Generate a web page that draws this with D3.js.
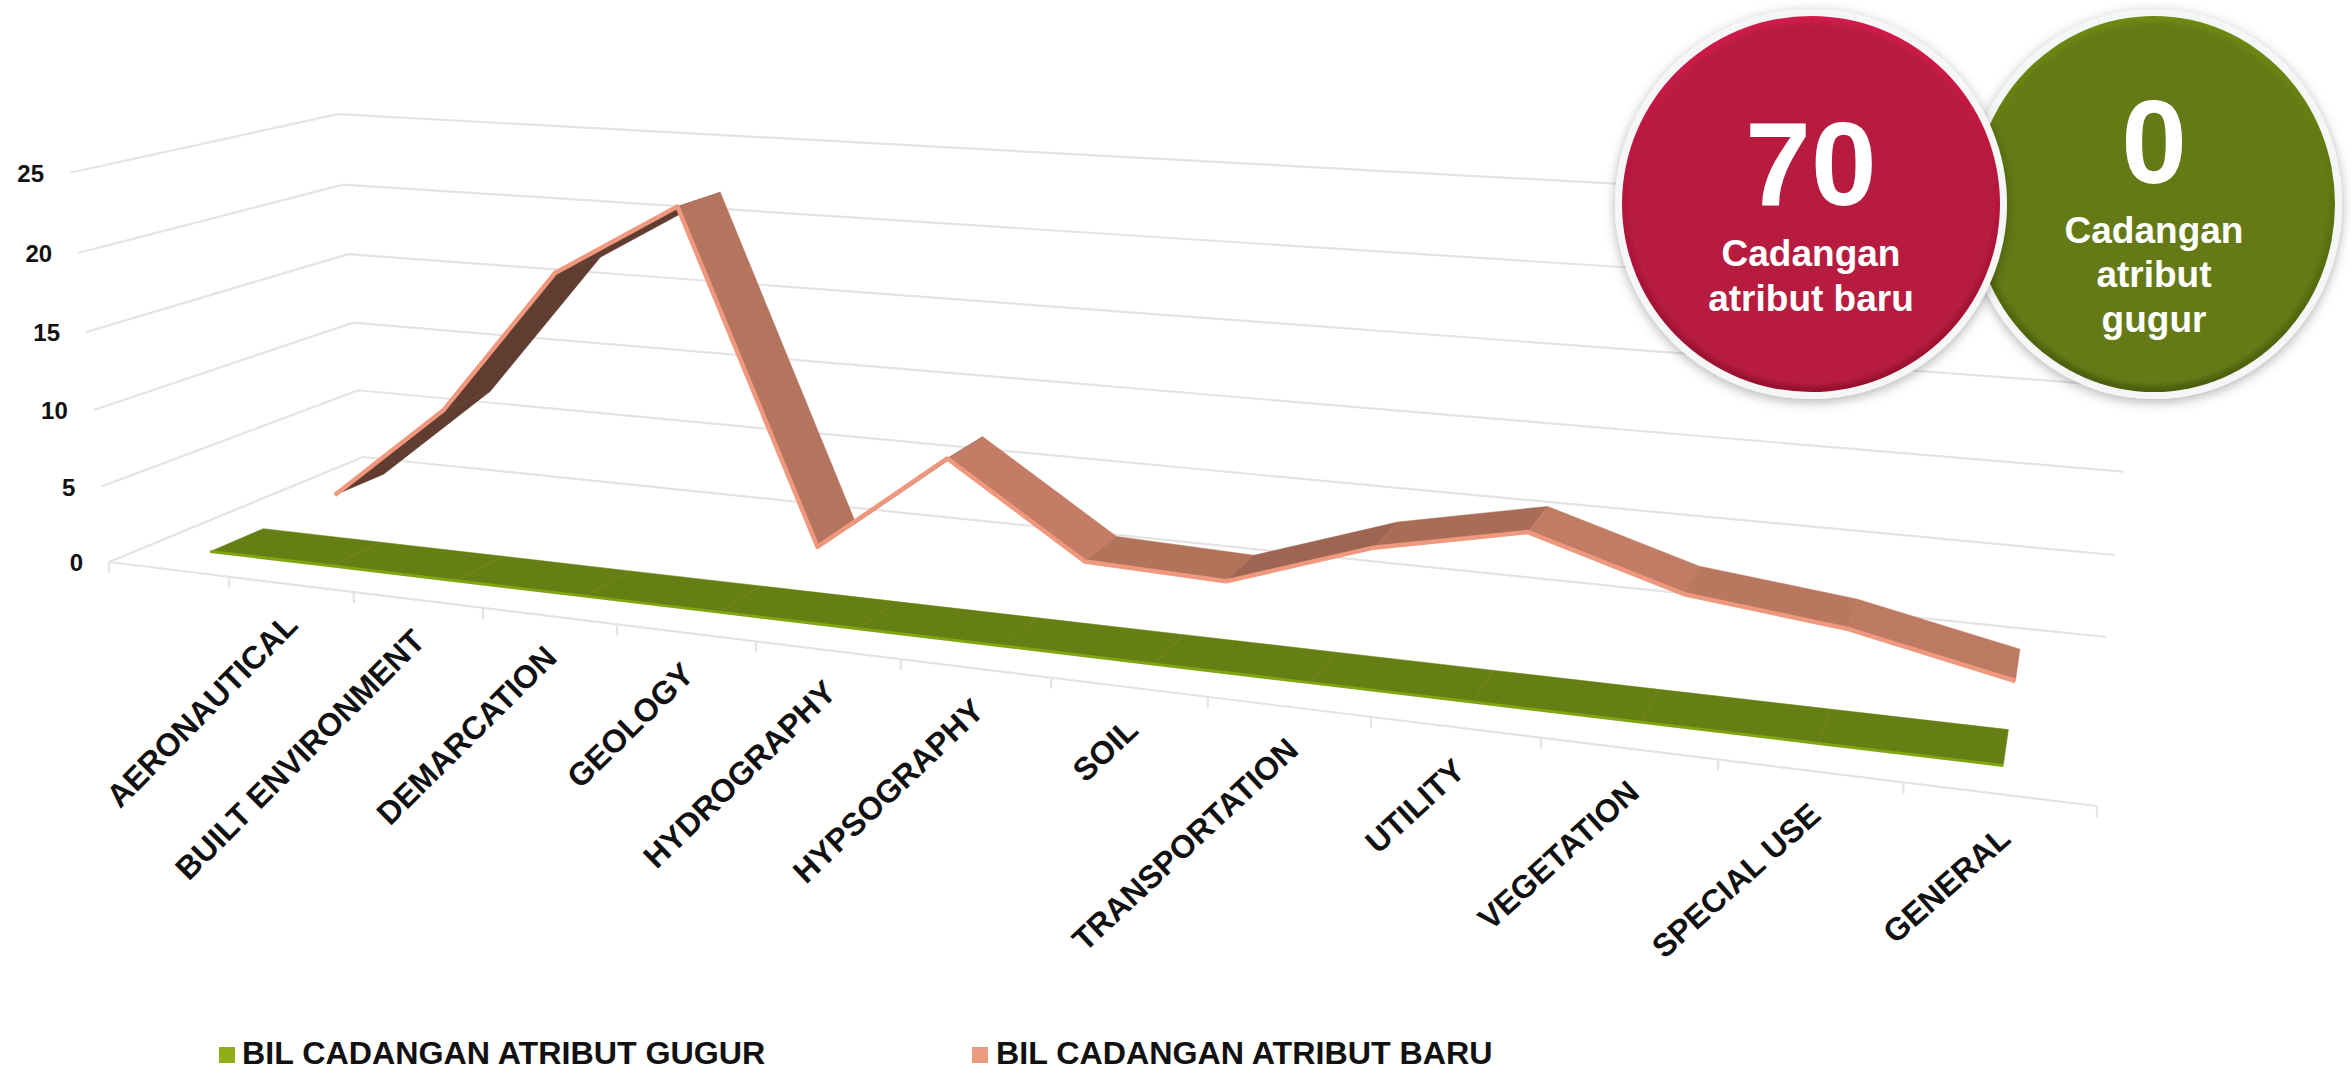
<!DOCTYPE html>
<html><head><meta charset="utf-8">
<script src="https://cdn.jsdelivr.net/npm/d3@7"></script>
<style>html,body{margin:0;padding:0;background:#fff}svg{display:block}text{font-family:"Liberation Sans",Arial,sans-serif;font-weight:700}</style>
</head><body><svg id="c" width="2351" height="1071"></svg>
<script>
const categories=["","AERONAUTICAL","BUILT ENVIRONMENT","DEMARCATION","GEOLOGY","HYDROGRAPHY","HYPSOGRAPHY","SOIL","TRANSPORTATION","UTILITY","VEGETATION","SPECIAL USE","GENERAL"];
const categoryCount=13;
const seriesBaru=[0.2,7,17,21.9,0.25,7,1.2,0.9,4,5.9,3.1,2.05,0.05];
const seriesGugur=[0,0,0,0,0,0,0,0,0,0,0,0,0];
const yTicks=[0,5,10,15,20,25];
const legendNames=["BIL CADANGAN ATRIBUT GUGUR","BIL CADANGAN ATRIBUT BARU"];
const shadesBaru=["#613c30","#613c30","#613c30","#b4745e","#3d2a22","#c47c66","#b2735b","#9e6652","#a86c57","#c07c65","#b8775f","#bd7a63"];

// projection frame
const floor=[[109,562],[2097,806],[2106,637],[363,457]];
const wallTop=[[0,0,69,172],[0,1,339,113],[1,1,2150,215]];
function unitHomography(p){const [[x0,y0],[x1,y1],[x2,y2],[x3,y3]]=p;
 const dx1=x1-x2,dx2=x3-x2,dx3=x0-x1+x2-x3,dy1=y1-y2,dy2=y3-y2,dy3=y0-y1+y2-y3;
 const den=dx1*dy2-dx2*dy1,g=(dx3*dy2-dx2*dy3)/den,h=(dx1*dy3-dx3*dy1)/den;
 return {mu:[x1-x0+g*x1,y1-y0+g*y1,g],md:[x3-x0+h*x3,y3-y0+h*y3,h],mo:[x0,y0,1]};}
const H=unitHomography(floor);
function solve3(A,b){const M=A.map((r,i)=>[...r,b[i]]);for(let i=0;i<3;i++){let p=i;for(let j=i+1;j<3;j++)if(Math.abs(M[j][i])>Math.abs(M[p][i]))p=j;[M[i],M[p]]=[M[p],M[i]];for(let j=0;j<3;j++)if(j!==i){const f=M[j][i]/M[i][i];for(let k=i;k<4;k++)M[j][k]-=f*M[i][k];}}return M.map((r,i)=>r[3]/r[i]);}
const mv=(()=>{const rows=[],rhs=[];wallTop.forEach(([u,d,X,Y])=>{const b=[0,1,2].map(k=>H.mu[k]*u+H.md[k]*d+H.mo[k]);rows.push([1,0,-X]);rhs.push(X*b[2]-b[0]);rows.push([0,1,-Y]);rhs.push(Y*b[2]-b[1]);});
 const A=[0,1,2].map(i=>[0,1,2].map(j=>d3.sum(rows,r=>r[i]*r[j])));const B=[0,1,2].map(i=>d3.sum(rows,(r,n)=>r[i]*rhs[n]));return solve3(A,B);})();
const uScale=d3.scaleLinear().domain([0,categoryCount]).range([0,1]);
const vScale=d3.scaleLinear().domain([0,25]).range([0,1]);
function project(i,v,d){const u=uScale(i),t=vScale(v);const p=[0,1,2].map(k=>H.mu[k]*u+mv[k]*t+H.md[k]*d+H.mo[k]);return [p[0]/p[2],p[1]/p[2]];}
const line=d3.line();
const svg=d3.select("#c");
const defs=svg.append("defs");
const sh=defs.append("filter").attr("id","sh").attr("x","-20%").attr("y","-20%").attr("width","140%").attr("height","140%");
sh.append("feDropShadow").attr("dx",0).attr("dy",3).attr("stdDeviation",6).attr("flood-color","#000").attr("flood-opacity",.3);
defs.append("filter").attr("id","bl").append("feGaussianBlur").attr("stdDeviation",2.5);
[["rb","#d21c4c","#96122f"],["gb","#708a14","#4c5c0e"]].forEach(([id,a,b])=>{const g=defs.append("linearGradient").attr("id",id).attr("x1",0).attr("y1",0).attr("x2",0).attr("y2",1);g.append("stop").attr("offset",0).attr("stop-color",a);g.append("stop").attr("offset",1).attr("stop-color",b);});

// grid
const grid=svg.append("g").attr("fill","none").attr("stroke","#e4e4e4").attr("stroke-width",2.2);
yTicks.forEach(v=>{grid.append("path").attr("d",line([project(0,v,0),project(0,v,1),project(categoryCount,v,1)]));});
grid.append("path").attr("d",line([project(0,0,0),project(categoryCount,0,0)]));
d3.range(categoryCount+1).forEach(i=>{const p=project(i,0,0);grid.append("path").attr("d",line([p,[p[0],p[1]+11]]));});
// y labels
svg.append("g").attr("font-size",24).attr("fill","#111").attr("text-anchor","end").selectAll("text").data(yTicks).join("text")
 .attr("x",v=>project(0,v,0)[0]-26).attr("y",v=>project(0,v,0)[1]+9).text(v=>v);
// x labels
const labelAngle=d3.scaleLinear().domain([1,12]).range([-45.5,-41.5]);
svg.append("g").attr("font-size",32).attr("fill","#111").attr("text-anchor","end").selectAll("text").data(categories.map((c,i)=>({c,i})).filter(d=>d.c)).join("text")
 .attr("transform",d=>{const p=project(d.i+.5,0,0);return `translate(${p[0]+8+d.i*.45},${p[1]+42+d.i*.45}) rotate(${labelAngle(d.i)})`;}).text(d=>d.c);

// ribbons
function ribbon(vals,d1,d2,fillOf,edge,w){const g=svg.append("g");
 d3.range(vals.length-1).forEach(i=>{const a=i+.5,b=i+1.5;g.append("path").attr("fill",fillOf(i)).attr("stroke",fillOf(i)).attr("stroke-width",.5)
  .attr("d",line([project(a,vals[i],d1),project(b,vals[i+1],d1),project(b,vals[i+1],d2),project(a,vals[i],d2)])+"Z");});
 g.append("path").attr("fill","none").attr("stroke",edge).attr("stroke-width",w).attr("stroke-linejoin","round").attr("d",line(vals.map((v,i)=>project(i+.5,v,d1))));}
ribbon(seriesBaru,.64,.85,i=>shadesBaru[i],"#f0987e",4.5);
ribbon(seriesGugur,.15,.35,()=>"#667f14","#7fa50f",3);

// callouts
function bubble(cx,cy,rx,ry,fill,grad,big,bigY,lines){const g=svg.append("g");
 g.append("ellipse").attr("cx",cx).attr("cy",cy).attr("rx",rx).attr("ry",ry).attr("fill","#f5f6f6").attr("filter","url(#sh)");
 g.append("ellipse").attr("cx",cx).attr("cy",cy).attr("rx",rx-7).attr("ry",ry-7).attr("fill",`url(#${grad})`);
 g.append("ellipse").attr("cx",cx).attr("cy",cy).attr("rx",rx-13).attr("ry",ry-13).attr("fill",fill).attr("filter","url(#bl)");
 g.append("text").attr("x",cx).attr("y",bigY).attr("font-size",118).attr("fill","#fff").attr("text-anchor","middle").text(big);
 lines.forEach(([t,y])=>g.append("text").attr("x",cx).attr("y",y).attr("font-size",37).attr("fill","#fff").attr("text-anchor","middle").text(t));}
bubble(2154,204,188,195,"#657a15","gb","0",183,[["Cadangan",243],["atribut",287],["gugur",332]]);
bubble(1811,204,196,195,"#b71c3f","rb","70",205,[["Cadangan",266],["atribut baru",311]]);

// legend
const leg=svg.append("g");
[[219,"#8fad15",242],[972,"#ea9a7f",996]].forEach(([x,col,tx],i)=>{leg.append("rect").attr("x",x).attr("y",1047).attr("width",16).attr("height",16).attr("fill",col);
 leg.append("text").attr("x",tx).attr("y",1064).attr("font-size",32.2).attr("fill","#111").text(legendNames[i]);});
</script></body></html>
